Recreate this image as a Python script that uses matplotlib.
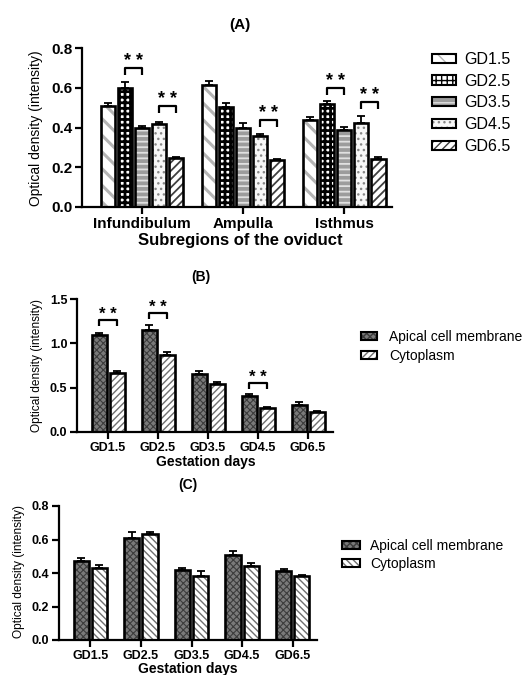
import matplotlib
matplotlib.use('Agg')
import matplotlib.pyplot as plt
import numpy as np
from matplotlib.patches import Patch

plt.rcParams['font.family'] = ['Liberation Sans', 'DejaVu Sans']
plt.rcParams['hatch.linewidth'] = 1.0

# ---------------- data ----------------
regions = ['Infundibulum', 'Ampulla', 'Isthmus']
gd_labels = ['GD1.5', 'GD2.5', 'GD3.5', 'GD4.5', 'GD6.5']

a_gd15 = [0.51, 0.615, 0.44]
a_gd25 = [0.60, 0.505, 0.52]
a_gd35 = [0.395, 0.40, 0.385]
a_gd45 = [0.42, 0.355, 0.425]
a_gd65 = [0.245, 0.235, 0.24]
a_gd15_err = [0.012, 0.017, 0.015]
a_gd25_err = [0.027, 0.017, 0.015]
a_gd35_err = [0.015, 0.022, 0.017]
a_gd45_err = [0.01, 0.013, 0.035]
a_gd65_err = [0.007, 0.006, 0.012]
# (region, bar i, bar j, bracket height)
a_sig = [(0, 1, 2, 0.70), (0, 3, 4, 0.51), (1, 3, 4, 0.44), (2, 1, 2, 0.60), (2, 3, 4, 0.53)]

days = ['GD1.5', 'GD2.5', 'GD3.5', 'GD4.5', 'GD6.5']
b_apical = [1.09, 1.15, 0.65, 0.41, 0.31]
b_apical_err = [0.03, 0.055, 0.035, 0.015, 0.025]
b_cyto = [0.66, 0.87, 0.54, 0.27, 0.22]
b_cyto_err = [0.025, 0.03, 0.025, 0.012, 0.012]
# (day index, bracket height)
b_sig = [(0, 1.26), (1, 1.34), (3, 0.55)]

c_apical = [0.47, 0.61, 0.42, 0.51, 0.41]
c_apical_err = [0.022, 0.032, 0.012, 0.022, 0.015]
c_cyto = [0.43, 0.63, 0.38, 0.44, 0.38]
c_cyto_err = [0.017, 0.017, 0.032, 0.022, 0.007]

legend_b = ['Apical cell membrane', 'Cytoplasm']

# ---------------- layout helpers ----------------
W, H = 523, 675
fig = plt.figure(figsize=(W / 100, H / 100), dpi=100)


def rect(l, r, t, b):
    return [l / W, 1 - b / H, (r - l) / W, (b - t) / H]


def fx(px):
    return px / W


def fy(py):
    return 1 - py / H


def style_axes(ax, fs):
    for s in ['top', 'right']:
        ax.spines[s].set_visible(False)
    for s in ['left', 'bottom']:
        ax.spines[s].set_linewidth(1.6)
    ax.tick_params(axis='both', width=1.6, length=5, labelsize=fs, pad=2)
    for lab in ax.get_xticklabels() + ax.get_yticklabels():
        lab.set_fontweight('bold')


def hatched_bars(ax, x, h, width, face, hcol, hatch, hlw, lw=1.9):
    with plt.rc_context({'hatch.linewidth': hlw}):
        bars = ax.bar(x, h, width, color=face, edgecolor=hcol, hatch=hatch,
                      linewidth=0, zorder=2)
    for p in bars:
        if hasattr(p, 'set_hatch_linewidth'):
            p.set_hatch_linewidth(hlw)
    ax.bar(x, h, width, fill=False, edgecolor='black', linewidth=lw, zorder=3)


def legend_handle(face, hcol, hatch, hlw):
    p1 = Patch(facecolor=face, edgecolor=hcol, hatch=hatch, linewidth=0)
    if hasattr(p1, 'set_hatch_linewidth'):
        p1.set_hatch_linewidth(hlw)
    p2 = Patch(fill=False, edgecolor='black', linewidth=1.5)
    return (p1, p2)


def bracket(ax, x1, x2, y, leg, fs):
    ax.plot([x1, x1, x2, x2], [y - leg, y, y, y - leg], color='black', lw=1.6,
            zorder=4, solid_capstyle='butt')
    ax.annotate('* *', xy=((x1 + x2) / 2, y), xytext=(0, 1), textcoords='offset points',
                ha='center', va='baseline', fontsize=fs, fontweight='bold')


# ---------------- Panel A ----------------
axA = fig.add_axes(rect(82, 392, 48, 207))
styles_a = [
    ('white', '#b5b5b5', '\\\\', 2.2),
    ('white', 'black', '+++', 2.0),
    ('#9c9c9c', '#e0e0e0', '---', 1.3),
    ('#f7f7f7', '#888888', '...', 1.0),
    ('white', '#404040', '////', 1.3),
]
a_vals = [a_gd15, a_gd25, a_gd35, a_gd45, a_gd65]
a_errs = [a_gd15_err, a_gd25_err, a_gd35_err, a_gd45_err, a_gd65_err]
xa = np.arange(len(regions))
step_a, w_a = 0.168, 0.14
for k in range(5):
    xs = xa + (k - 2) * step_a
    face, hcol, hatch, hlw = styles_a[k]
    hatched_bars(axA, xs, a_vals[k], w_a, face, hcol, hatch, hlw)
    axA.errorbar(xs, a_vals[k], yerr=[np.zeros(3), a_errs[k]], fmt='none',
                 ecolor='black', elinewidth=1.3, capsize=3, capthick=1.3, zorder=4)
for g, i, j, y in a_sig:
    bracket(axA, g + (i - 2) * step_a, g + (j - 2) * step_a, y, 0.035, 13)
axA.set_xlim(-0.59, 2.47)
axA.set_ylim(0, 0.8)
axA.set_yticks([0.0, 0.2, 0.4, 0.6, 0.8])
axA.set_xticks(xa)
axA.set_xticklabels(regions)
style_axes(axA, 11)
fig.text(fx(240), fy(25), '(A)', ha='center', va='center', fontsize=11, fontweight='bold')
fig.text(fx(240), fy(241), 'Subregions of the oviduct', ha='center', va='center',
         fontsize=12, fontweight='bold')
fig.text(fx(36), fy(128), 'Optical density (intensity)', ha='center', va='center',
         rotation=90, fontsize=10)
fig.legend(handles=[legend_handle(*s) for s in styles_a], labels=gd_labels,
           loc='upper left', bbox_to_anchor=(fx(432), fy(52)), frameon=False,
           borderpad=0, borderaxespad=0, fontsize=11.5, handlelength=1.5, handleheight=0.5,
           handletextpad=0.5, labelspacing=0.42)

# ---------------- Panel B ----------------
xb = np.arange(len(days))
off, w_b = 0.18, 0.3
apical_style = ('#7a7a7a', '#3c3c3c', 'xxxxx', 0.8)
cyto_b_style = ('white', '#707070', '/////', 1.0)
cyto_c_style = ('white', '#707070', '\\\\\\\\\\', 1.0)

axB = fig.add_axes(rect(77, 333, 299, 432))
hatched_bars(axB, xb - off, b_apical, w_b, *apical_style)
hatched_bars(axB, xb + off, b_cyto, w_b, *cyto_b_style)
axB.errorbar(xb - off, b_apical, yerr=[np.zeros(5), b_apical_err], fmt='none',
             ecolor='black', elinewidth=1.3, capsize=3, capthick=1.3, zorder=4)
axB.errorbar(xb + off, b_cyto, yerr=[np.zeros(5), b_cyto_err], fmt='none',
             ecolor='black', elinewidth=1.3, capsize=3, capthick=1.3, zorder=4)
for d, y in b_sig:
    bracket(axB, d - off, d + off, y, 0.07, 12)
axB.set_xlim(-0.62, 4.5)
axB.set_ylim(0, 1.5)
axB.set_yticks([0.0, 0.5, 1.0, 1.5])
axB.set_xticks(xb)
axB.set_xticklabels(days)
style_axes(axB, 9)
fig.text(fx(201), fy(277), '(B)', ha='center', va='center', fontsize=10, fontweight='bold')
fig.text(fx(206), fy(462), 'Gestation days', ha='center', va='center',
         fontsize=10, fontweight='bold')
fig.text(fx(37), fy(365), 'Optical density (intensity)', ha='center', va='center',
         rotation=90, fontsize=8.6)
fig.legend(handles=[legend_handle(*apical_style), legend_handle(*cyto_b_style)],
           labels=legend_b, loc='upper left', bbox_to_anchor=(fx(361), fy(330)),
           frameon=False, borderpad=0, borderaxespad=0, fontsize=10, handlelength=1.15,
           handleheight=0.5, handletextpad=0.85, labelspacing=0.35)

# ---------------- Panel C ----------------
axC = fig.add_axes(rect(59, 317, 506, 640))
hatched_bars(axC, xb - off, c_apical, w_b, *apical_style)
hatched_bars(axC, xb + off, c_cyto, w_b, *cyto_c_style)
axC.errorbar(xb - off, c_apical, yerr=[np.zeros(5), c_apical_err], fmt='none',
             ecolor='black', elinewidth=1.3, capsize=3, capthick=1.3, zorder=4)
axC.errorbar(xb + off, c_cyto, yerr=[np.zeros(5), c_cyto_err], fmt='none',
             ecolor='black', elinewidth=1.3, capsize=3, capthick=1.3, zorder=4)
axC.set_xlim(-0.62, 4.48)
axC.set_ylim(0, 0.8)
axC.set_yticks([0.0, 0.2, 0.4, 0.6, 0.8])
axC.set_xticks(xb)
axC.set_xticklabels(days)
style_axes(axC, 9)
fig.text(fx(188), fy(485), '(C)', ha='center', va='center', fontsize=10, fontweight='bold')
fig.text(fx(188), fy(669), 'Gestation days', ha='center', va='center',
         fontsize=10, fontweight='bold')
fig.text(fx(19), fy(572), 'Optical density (intensity)', ha='center', va='center',
         rotation=90, fontsize=8.6)
fig.legend(handles=[legend_handle(*apical_style), legend_handle(*cyto_c_style)],
           labels=legend_b, loc='upper left', bbox_to_anchor=(fx(342), fy(539)),
           frameon=False, borderpad=0, borderaxespad=0, fontsize=10, handlelength=1.3,
           handleheight=0.5, handletextpad=0.75, labelspacing=0.3)

fig.savefig('out.png', dpi=100)
